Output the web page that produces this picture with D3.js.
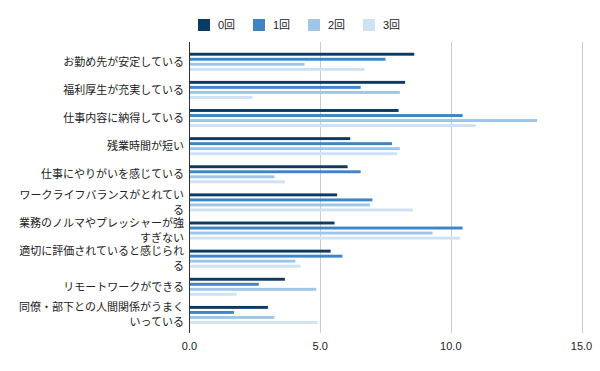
<!DOCTYPE html>
<html>
<head>
<meta charset="utf-8">
<script src="https://cdn.jsdelivr.net/npm/d3@7"></script>
<style>
  body { margin: 0; background: #fff; }
  text { font-family: Arial, "Liberation Sans", "Noto Sans CJK JP", sans-serif; fill: #222; }
</style>
</head>
<body>
<svg id="chart" width="600" height="371"></svg>
<script>
// categories (line breaks as in the original)
const categories = [
  ["お勤め先が安定している"],
  ["福利厚生が充実している"],
  ["仕事内容に納得している"],
  ["残業時間が短い"],
  ["仕事にやりがいを感じている"],
  ["ワークライフバランスがとれてい", "る"],
  ["業務のノルマやプレッシャーが強", "すぎない"],
  ["適切に評価されていると感じられ", "る"],
  ["リモートワークができる"],
  ["同僚・部下との人間関係がうまく", "いっている"]
]
const seriesNames = ["0回", "1回", "2回", "3回"]
const values0 = [8.6, 8.25, 8.0, 6.15, 6.05, 5.65, 5.55, 5.4, 3.65, 3.0]
const values1 = [7.5, 6.55, 10.45, 7.75, 6.55, 7.0, 10.45, 5.85, 2.65, 1.7]
const values2 = [4.4, 8.05, 13.3, 8.05, 3.25, 6.9, 9.3, 4.05, 4.85, 3.25]
const values3 = [6.7, 2.4, 10.95, 7.95, 3.65, 8.55, 10.35, 4.25, 1.8, 4.9]
const xTicks = [0, 5, 10, 15]
const colors = ["#0b3a64", "#3d85c6", "#9fc5e8", "#cfe2f3"]

const series = [values0, values1, values2, values3]
const svg = d3.select("#chart")

const plotTop = 42, plotBottom = 333
const x = d3.scaleLinear().domain([0, 15]).range([189.5, 581.5])
const y = d3.scaleBand()
  .domain(d3.range(categories.length))
  .range([47.7, 329])
const inner = d3.scaleBand()
  .domain(d3.range(series.length))
  .range([0, 18])
  .paddingInner(0.42)

// gridlines
svg.append("g")
  .selectAll("line")
  .data(xTicks.filter(d => d > 0))
  .enter()
  .append("line")
  .attr("x1", d => Math.round(x(d)) + 0.5)
  .attr("x2", d => Math.round(x(d)) + 0.5)
  .attr("y1", plotTop)
  .attr("y2", plotBottom)
  .attr("stroke", "#ccc")
  .attr("stroke-width", 1)

// bars
const groups = svg.append("g")
  .selectAll("g")
  .data(categories.map((c, i) => i))
  .enter()
  .append("g")
  .attr("transform", i => `translate(0,${y(i) + (y.bandwidth() - 18) / 2})`)

groups.selectAll("rect")
  .data(i => series.map((s, k) => ({ k: k, v: s[i] })))
  .enter()
  .append("rect")
  .attr("x", x(0))
  .attr("y", d => inner(d.k))
  .attr("width", d => x(d.v) - x(0))
  .attr("height", inner.bandwidth())
  .attr("fill", d => colors[d.k])

// y axis line
svg.append("line")
  .attr("x1", 189.5).attr("x2", 189.5)
  .attr("y1", plotTop).attr("y2", plotBottom)
  .attr("stroke", "#333")

// category labels
svg.append("g")
  .selectAll("text")
  .data(categories)
  .enter()
  .append("text")
  .attr("text-anchor", "end")
  .attr("font-size", "11px")
  .each(function (lines, i) {
    const cy = y(i) + y.bandwidth() / 2
    const start = cy - (lines.length - 1) * 7.5 + 4
    lines.forEach((l, j) => {
      d3.select(this).append("tspan")
        .attr("x", 184)
        .attr("y", start + j * 15)
        .text(l)
    })
  })

// x tick labels
svg.append("g")
  .selectAll("text")
  .data(xTicks)
  .enter()
  .append("text")
  .attr("x", d => x(d))
  .attr("y", 350)
  .attr("text-anchor", "middle")
  .attr("font-size", "11px")
  .text(d => d.toFixed(1))

// legend
const legend = svg.append("g")
  .selectAll("g")
  .data(seriesNames)
  .enter()
  .append("g")
  .attr("transform", (d, i) => `translate(${198 + i * 55},19)`)

legend.append("rect")
  .attr("width", 12)
  .attr("height", 12)
  .attr("fill", (d, i) => colors[i])

legend.append("text")
  .attr("x", 20)
  .attr("y", 10)
  .attr("font-size", "11px")
  .text(d => d)
</script>
</body>
</html>
